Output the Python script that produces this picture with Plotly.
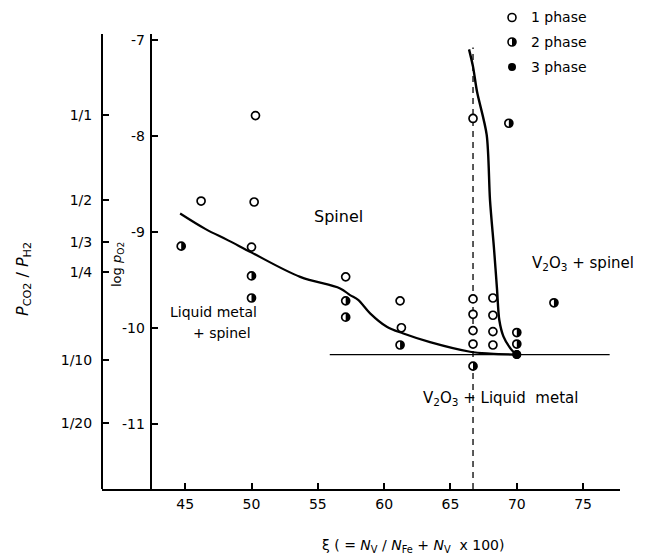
import plotly.graph_objects as go

# ---- data ----
one_x = [50.3, 46.2, 50.2, 50.0, 57.1, 61.2, 61.3, 66.7, 66.7, 66.7, 66.7, 66.7, 68.2, 68.2, 68.2, 68.2]
one_y = [-7.79, -8.68, -8.69, -9.16, -9.47, -9.72, -10.00, -7.82, -9.70, -9.86, -10.03, -10.17, -9.69, -9.87, -10.04, -10.18]
two_x = [44.7, 50.0, 50.0, 57.1, 57.1, 61.2, 66.7, 69.4, 70.0, 70.0, 72.8]
two_y = [-9.15, -9.46, -9.69, -9.72, -9.89, -10.18, -10.40, -7.87, -10.05, -10.17, -9.74]
three_x = [70.0]
three_y = [-10.28]

spinel_x = [44.62, 46.51, 48.24, 50.05, 53.67, 56.68, 57.43, 58.04, 58.94, 60.20, 61.45, 63.46, 66.48, 67.98, 69.94]
spinel_y = [-8.81, -8.97, -9.09, -9.22, -9.47, -9.59, -9.66, -9.71, -9.85, -9.99, -10.06, -10.15, -10.25, -10.27, -10.28]

v2o3_x = [66.40, 66.70, 67.00, 67.73, 67.98, 68.29, 68.51, 68.68, 68.99, 69.49, 69.94]
v2o3_y = [-7.10, -7.28, -7.54, -7.99, -8.67, -9.19, -9.60, -9.92, -10.09, -10.21, -10.28]

three_phase_line_x = [55.9, 77.0]
three_phase_line_y = [-10.28, -10.28]

stoich_x = [66.7, 66.7]
stoich_y = [-11.68, -7.08]

x_ticks = [45, 50, 55, 60, 65, 70, 75]
logp_ticks = [-7, -8, -9, -10, -11]
logp_labels = ["-7", "-8", "-9", "-10", "-11"]
ratio_tick_pos = [-7.78, -8.67, -9.11, -9.42, -10.34, -10.99]
ratio_labels = ["1/1", "1/2", "1/3", "1/4", "1/10", "1/20"]
legend_labels = ["1 phase", "2 phase", "3 phase"]

X_RANGE = [38.73, 77.78]
Y_RANGE = [-11.68, -6.94]
FONT = "DejaVu Sans"

# page layout (screen pixels); the browser body adds an 8px margin
PAD = 8
PL, PR, PT, PB = 102, 620, 34, 489          # plot-area edges on screen
W, H = 648 - PAD, 556 - PAD


def px(xs):
    return (xs - PL) / (PR - PL)


def py(ys):
    return (PB - ys) / (PB - PT)


R = 4.0
K = 0.5523 * R
half_path = (f"M 0,{-R} C {K},{-R} {R},{-K} {R},0 C {R},{K} {K},{R} 0,{R} Z")

fig = go.Figure()

fig.add_trace(go.Scatter(x=spinel_x, y=spinel_y, mode="lines",
                         line=dict(color="black", width=2.2, shape="spline", smoothing=1.0),
                         showlegend=False, hoverinfo="skip"))
fig.add_trace(go.Scatter(x=v2o3_x, y=v2o3_y, mode="lines",
                         line=dict(color="black", width=2.4, shape="spline", smoothing=0.8),
                         showlegend=False, hoverinfo="skip"))
fig.add_trace(go.Scatter(x=three_phase_line_x, y=three_phase_line_y, mode="lines",
                         line=dict(color="black", width=1.4), showlegend=False, hoverinfo="skip"))
fig.add_trace(go.Scatter(x=stoich_x, y=stoich_y, mode="lines",
                         line=dict(color="black", width=1.3, dash="6px,5px"),
                         showlegend=False, hoverinfo="skip"))

open_marker = dict(symbol="circle", size=2 * R, color="white", line=dict(color="black", width=1.7))
fig.add_trace(go.Scatter(x=one_x, y=one_y, mode="markers", marker=open_marker,
                         name="1 phase", showlegend=False))
fig.add_trace(go.Scatter(x=two_x, y=two_y, mode="markers", marker=open_marker,
                         name="2 phase", showlegend=False))
fig.add_trace(go.Scatter(x=three_x, y=three_y, mode="markers",
                         marker=dict(symbol="circle", size=9, color="black"),
                         name="3 phase", showlegend=False))
# binds the outer ratio axis (same point again on the overlaying axis)
fig.add_trace(go.Scatter(x=three_x, y=three_y, yaxis="y2", mode="markers",
                         marker=dict(size=9, color="black"), showlegend=False,
                         hoverinfo="skip"))

# right-half fill of the 2-phase markers, anchored at the data points
for x, y in zip(two_x, two_y):
    fig.add_shape(type="path", path=half_path, xref="x", yref="y",
                  xsizemode="pixel", ysizemode="pixel", xanchor=x, yanchor=y,
                  fillcolor="black", line=dict(width=0), layer="above")

axis_common = dict(showgrid=False, zeroline=False, showline=True, linecolor="black",
                   linewidth=2, ticks="inside", tickcolor="black", tickwidth=1.5,
                   tickfont=dict(family=FONT, size=14, color="black"))

fig.update_layout(
    width=W, height=H,
    margin=dict(l=PL - PAD, r=W - (PR - PAD), t=PT - PAD, b=H - (PB - PAD)),
    paper_bgcolor="white", plot_bgcolor="white",
    showlegend=False,
    xaxis=dict(range=X_RANGE, domain=[0, 1], tickvals=x_ticks, ticklen=6,
               ticklabelstandoff=1, **axis_common),
    yaxis=dict(range=Y_RANGE, anchor="free", position=px(150.7),
               tickvals=logp_ticks, ticktext=logp_labels, ticklen=6,
               ticklabelstandoff=2, **axis_common),
    yaxis2=dict(range=Y_RANGE, overlaying="y", anchor="free", position=0,
                tickvals=ratio_tick_pos, ticktext=ratio_labels, ticklen=6,
                ticklabelstandoff=6, **axis_common),
)

texts = [
    (56.53, -8.84, "Spinel", 16),
    (47.13, -9.84, "Liquid metal", 14),
    (47.75, -10.05, "+ spinel", 14),
    (75.0, -9.33, "V<sub>2</sub>O<sub>3</sub> + spinel", 15),
    (68.8, -10.74, "V<sub>2</sub>O<sub>3</sub> + Liquid  metal", 15),
]
for x, y, t, s in texts:
    fig.add_annotation(x=x, y=y, text=t, showarrow=False, xref="x", yref="y",
                       xanchor="center", yanchor="middle",
                       font=dict(family=FONT, size=s, color="black"))

# axis titles
fig.add_annotation(xref="paper", yref="paper", x=px(412.5), y=py(546),
                   xanchor="center", yanchor="middle",
                   text="\u03be ( = <i>N</i><sub>V</sub> / <i>N</i><sub>Fe</sub> + <i>N</i><sub>V</sub>  x 100)",
                   showarrow=False, font=dict(family=FONT, size=14, color="black"))
fig.add_annotation(xref="paper", yref="paper", x=px(117), y=py(265),
                   xanchor="center", yanchor="middle",
                   text="log <i>p</i><sub>O2</sub>", textangle=-90, showarrow=False,
                   font=dict(family=FONT, size=13, color="black"))
fig.add_annotation(xref="paper", yref="paper", x=px(23), y=py(279),
                   xanchor="center", yanchor="middle",
                   text="<i>P</i><sub>CO2</sub> / <i>P</i><sub>H2</sub>", textangle=-90, showarrow=False,
                   font=dict(family=FONT, size=16, color="black"))

# legend: marker glyphs drawn as pixel-sized shapes, labels as text
legend_y = [17.5, 42, 67]
for i, (label, ypix) in enumerate(zip(legend_labels, legend_y)):
    xa, ya = px(512), py(ypix)
    fill = "black" if i == 2 else "white"
    fig.add_shape(type="circle", xref="paper", yref="paper", xsizemode="pixel", ysizemode="pixel",
                  xanchor=xa, yanchor=ya, x0=-R, x1=R, y0=-R, y1=R,
                  fillcolor=fill, line=dict(color="black", width=1.6 if i < 2 else 0))
    if i == 1:
        fig.add_shape(type="path", path=half_path, xref="paper", yref="paper",
                      xsizemode="pixel", ysizemode="pixel", xanchor=xa, yanchor=ya,
                      fillcolor="black", line=dict(width=0))
    fig.add_annotation(xref="paper", yref="paper", x=px(530), y=ya,
                       xanchor="left", yanchor="middle", text=label, showarrow=False,
                       borderpad=0, font=dict(family=FONT, size=14, color="black"))

fig.write_html("out.html")
